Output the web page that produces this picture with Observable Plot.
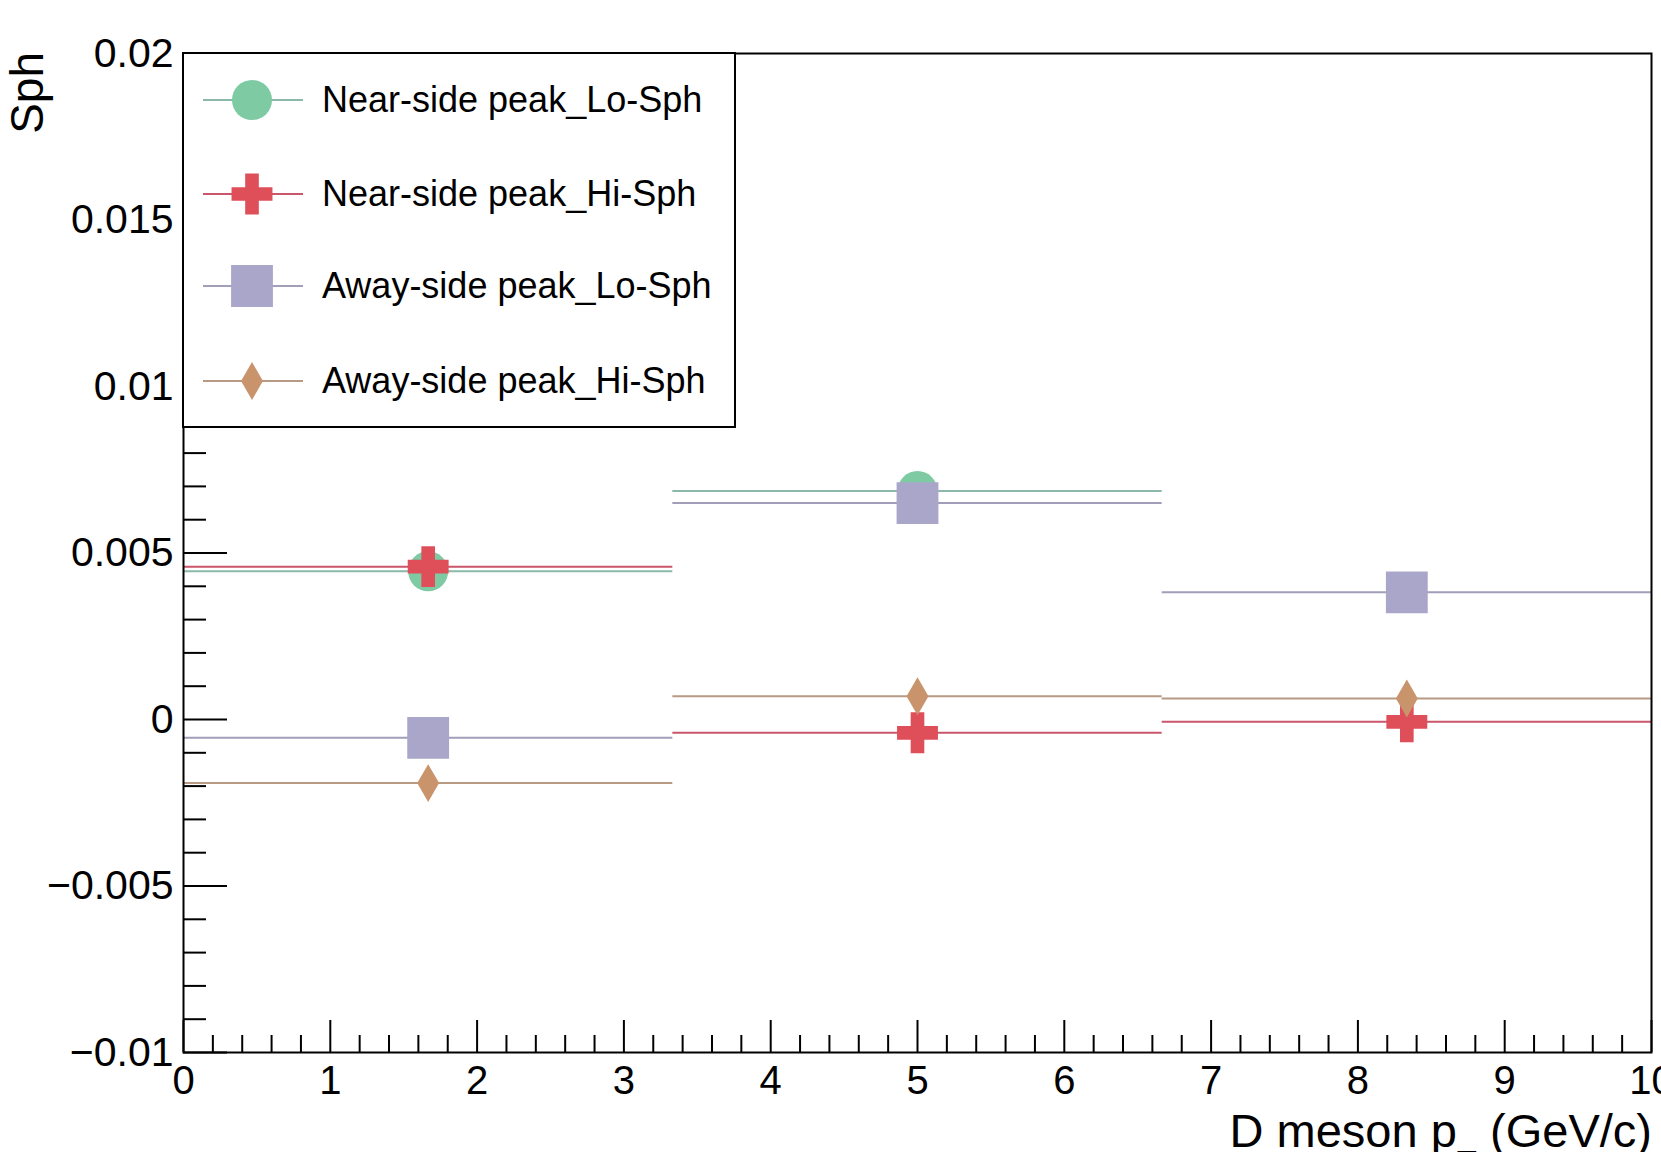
<!DOCTYPE html>
<html><head><meta charset="utf-8">
<script src="https://cdn.jsdelivr.net/npm/d3@7"></script>
<script src="https://cdn.jsdelivr.net/npm/@observablehq/plot@0.6"></script>
<style>html,body{margin:0;padding:0;background:#fff;} svg{display:block;}</style>
</head><body><div id="chart"></div>
<script>
// ---- data ----
const binEdges = [0, 3.3333, 6.6667, 10];
const binCenters = [1.6667, 5, 8.3333];
const nearLo = [0.00445, 0.00686, null];
const nearHi = [0.00459, -0.00040, -0.00007];
const awayLo = [-0.00055, 0.00650, 0.00382];
const awayHi = [-0.00191, 0.00070, 0.00063];
const seriesNames = ["Near-side peak_Lo-Sph", "Near-side peak_Hi-Sph", "Away-side peak_Lo-Sph", "Away-side peak_Hi-Sph"];
const yMajorTicks = [-0.01, -0.005, 0, 0.005, 0.01, 0.015, 0.02];
const yTickLabels = ["\u22120.01", "\u22120.005", "0", "0.005", "0.01", "0.015", "0.02"];
const xMajorTicks = [0, 1, 2, 3, 4, 5, 6, 7, 8, 9, 10];
const xTickLabels = ["0", "1", "2", "3", "4", "5", "6", "7", "8", "9", "10"];
const yTitle = "Sph";
const xTitleMain = "D meson p";
const xTitleSub = "T";
const xTitleUnit = " (GeV/c)";

const FONT = "'Liberation Sans', Arial, Helvetica, sans-serif";

const series = [
  {name: seriesNames[0], values: nearLo, symbol: "circle",  r: 20,   fill: "#7dcaa3", line: "#8ab9a9"},
  {name: seriesNames[1], values: nearHi, symbol: "cross",   r: 17.2, fill: "#df4f5a", line: "#c9566a"},
  {name: seriesNames[2], values: awayLo, symbol: "square",  r: 23.6, fill: "#a9a6ca", line: "#a19eb9"},
  {name: seriesNames[3], values: awayHi, symbol: "diamond", r: 11.5, fill: "#c9936b", line: "#b89a84"}
];

function rows(values) {
  return values.map((v, i) => ({x: binCenters[i], lo: binEdges[i], hi: binEdges[i + 1], y: v}))
               .filter(d => d.y != null);
}

const yMinor = d3.range(-10, 21).map(k => k / 1000).filter(v => !yMajorTicks.some(t => Math.abs(t - v) < 1e-9));
const xMinor = d3.range(0, 51).map(k => k / 5).filter(v => !xMajorTicks.includes(v));

const dataMarks = [];
for (const s of series) {
  const d = rows(s.values);
  dataMarks.push(Plot.ruleY(d, {y: "y", x1: "lo", x2: "hi", stroke: s.line, strokeWidth: 2}));
  dataMarks.push(Plot.dot(d, {x: "x", y: "y", symbol: s.symbol, r: s.r, fill: s.fill, stroke: "none"}));
}

const plot = Plot.plot({
  width: 1661,
  height: 1152,
  marginLeft: 183,
  marginRight: 10,
  marginTop: 53,
  marginBottom: 100,
  style: {fontFamily: FONT, fontSize: "41px", background: "white", color: "black"},
  x: {domain: [0, 10]},
  y: {domain: [-0.01, 0.02]},
  marks: [
    ...dataMarks,
    Plot.axisY(yMinor, {tickSize: -23, fill: "none", strokeWidth: 2, label: null}),
    Plot.axisY(yMajorTicks, {tickSize: -44, fill: "none", strokeWidth: 2, label: null}),
    Plot.axisY(yMajorTicks, {tickSize: 0, tickPadding: 10, fontSize: 41, label: null,
      tickFormat: d => yTickLabels[yMajorTicks.findIndex(t => Math.abs(t - d) < 1e-9)]}),
    Plot.axisX(xMinor, {tickSize: -17, fill: "none", strokeWidth: 2, label: null}),
    Plot.axisX(xMajorTicks, {tickSize: -32, fill: "none", strokeWidth: 2, label: null}),
    Plot.axisX(xMajorTicks, {tickSize: 0, tickPadding: 13, fontSize: 40, label: null,
      tickFormat: d => xTickLabels[xMajorTicks.indexOf(d)]}),
    Plot.frame({stroke: "black", strokeWidth: 2})
  ]
});

document.getElementById("chart").appendChild(plot);

const svg = d3.select(plot);

// axis titles
svg.append("text")
  .attr("transform", "translate(43,52) rotate(-90)")
  .attr("text-anchor", "end")
  .attr("font-family", FONT)
  .attr("font-size", 46)
  .attr("fill", "black")
  .text(yTitle);

const xt = svg.append("text")
  .attr("x", 1652).attr("y", 1147)
  .attr("text-anchor", "end")
  .attr("font-family", FONT)
  .attr("font-size", 47)
  .attr("fill", "black");
xt.append("tspan").text(xTitleMain);
xt.append("tspan").attr("dy", 27).attr("font-size", 33).text(xTitleSub);
xt.append("tspan").attr("dy", -27).text(xTitleUnit);

// legend
const lg = svg.append("g");
lg.append("rect").attr("x", 183).attr("y", 53).attr("width", 552).attr("height", 374)
  .attr("fill", "white").attr("stroke", "black").attr("stroke-width", 2);
const rowY = [100, 194, 286, 381];
const symMap = {circle: d3.symbolCircle, cross: d3.symbolCross, square: d3.symbolSquare, diamond: d3.symbolDiamond};
series.forEach((s, i) => {
  const cy = rowY[i];
  lg.append("line").attr("x1", 203).attr("x2", 303).attr("y1", cy).attr("y2", cy)
    .attr("stroke", s.line).attr("stroke-width", 2);
  lg.append("path")
    .attr("transform", `translate(252,${cy})`)
    .attr("d", d3.symbol(symMap[s.symbol], Math.PI * s.r * s.r)())
    .attr("fill", s.fill);
  lg.append("text").attr("x", 322).attr("y", cy + 12)
    .attr("text-anchor", "start")
    .attr("font-family", FONT).attr("font-size", 36).attr("fill", "black")
    .text(s.name);
});
</script>
</body></html>
